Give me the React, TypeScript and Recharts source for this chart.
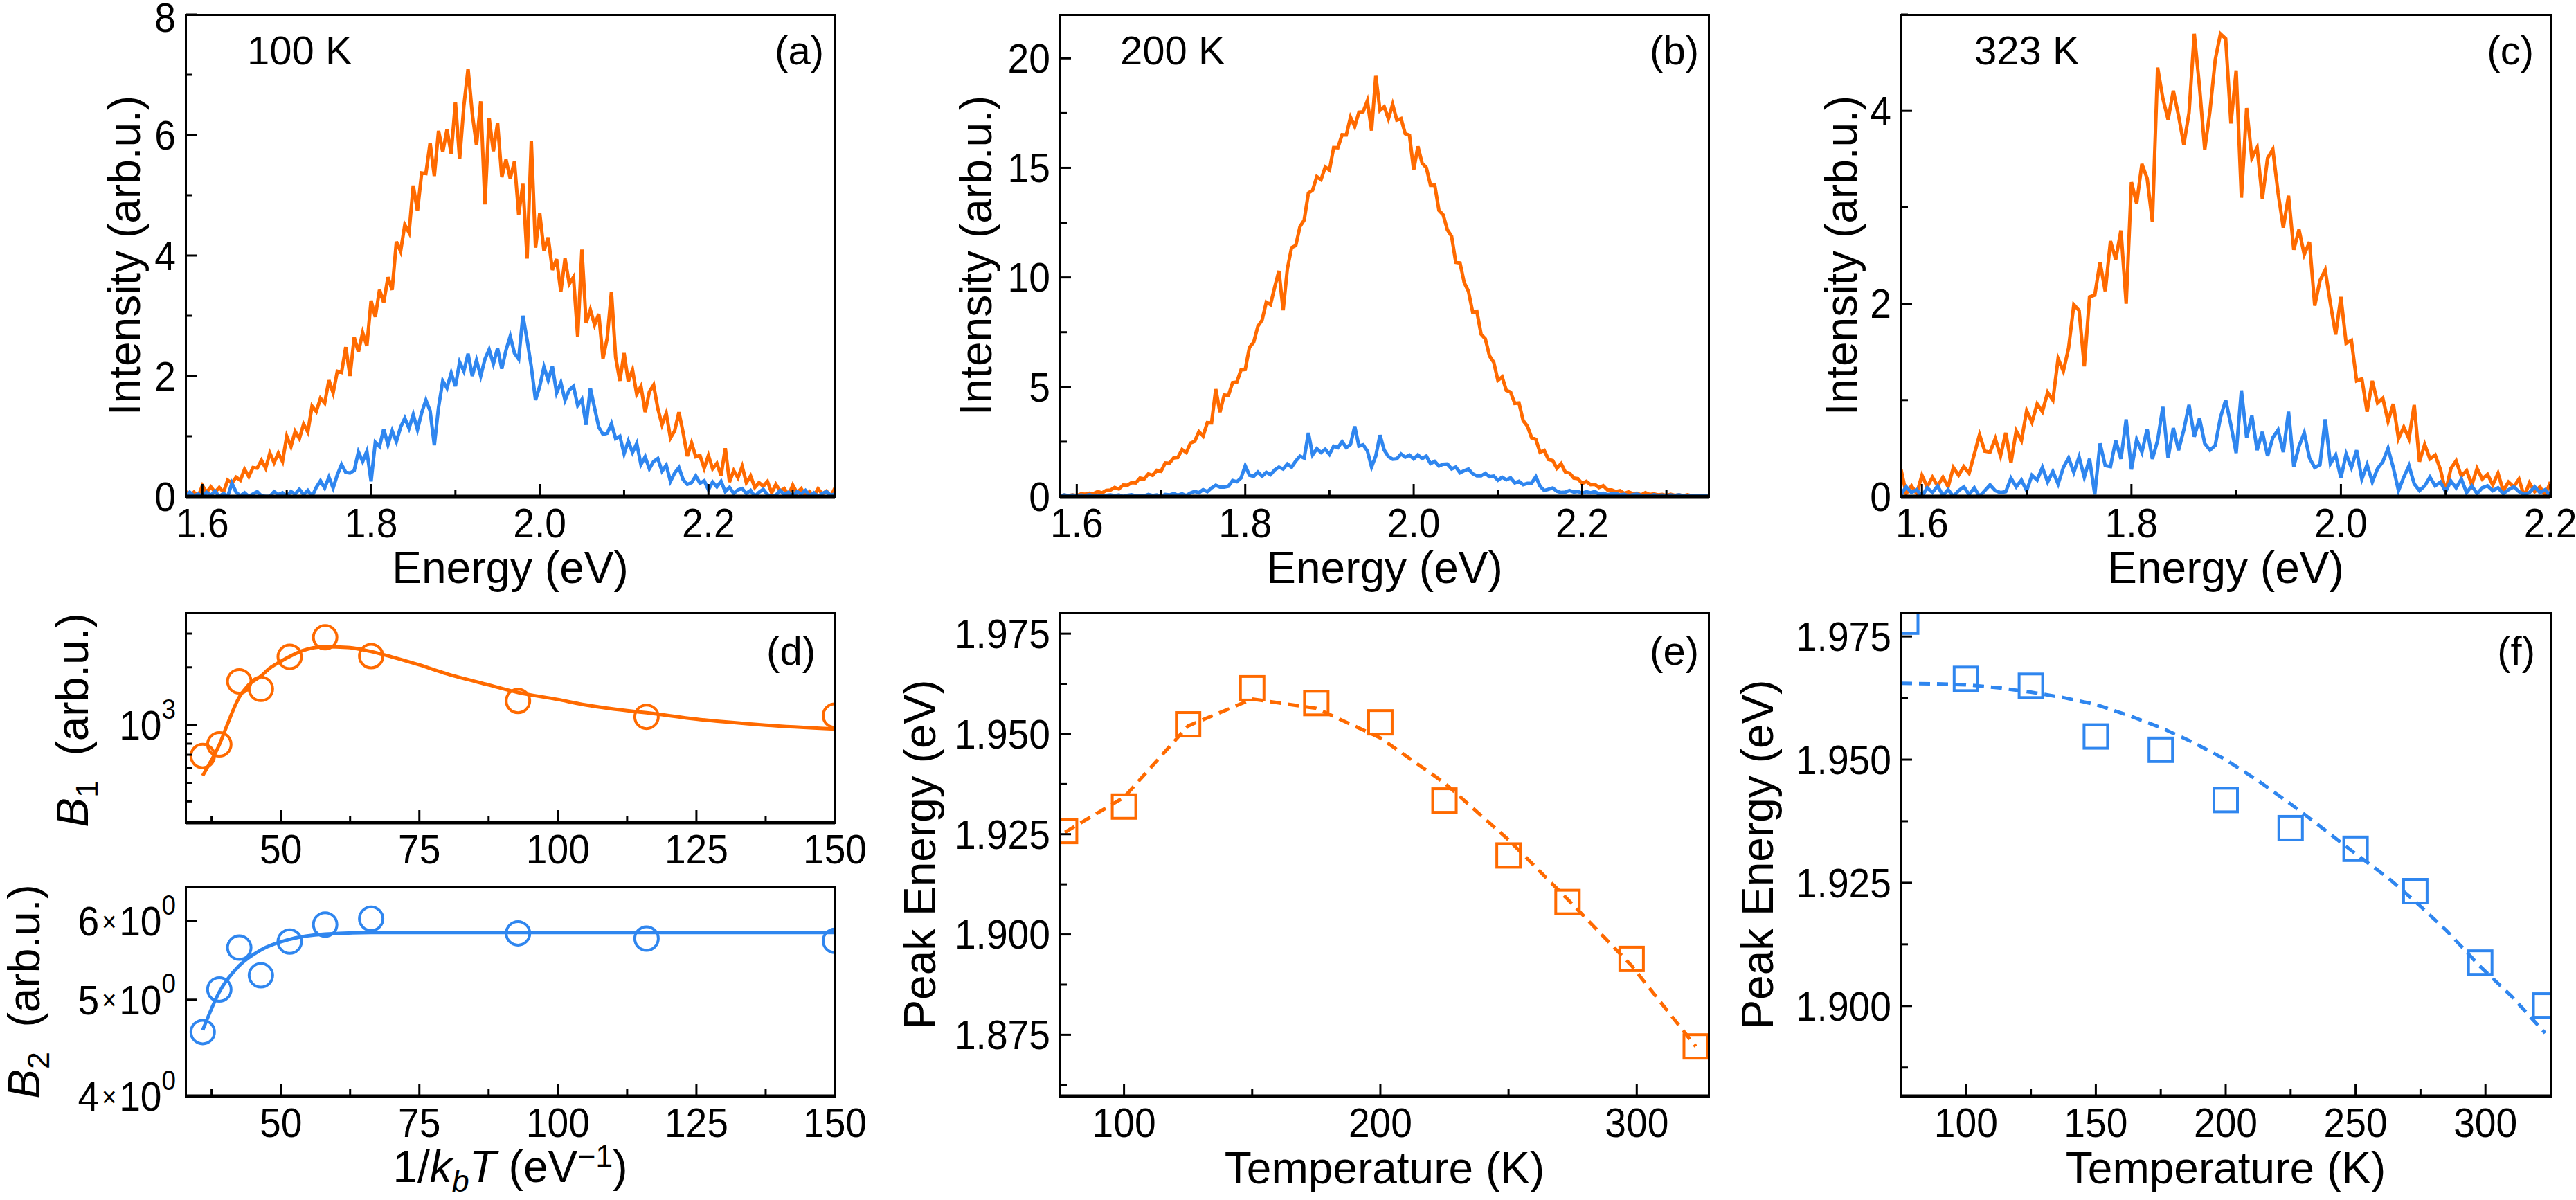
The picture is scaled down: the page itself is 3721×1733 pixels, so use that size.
import React from "react";
import { LineChart, Line, ComposedChart, Scatter, XAxis, YAxis } from "recharts";

const FONT = "'Liberation Sans', Arial, Helvetica, sans-serif";
const ORANGE = "#ff6a00";
const BLUE = "#2f86ef";
const INK = "#000";

// PL spectra, intensity every 5 meV starting at 1.580 eV
const E_START = 1.58;
const E_STEP = 0.005;

const orange100K = [
  0.09, 0.0, 0.07, 0.0, 0.18, 0.07, 0.16, 0.07, 0.15, 0.07,
  0.27, 0.22, 0.32, 0.27, 0.45, 0.33, 0.48, 0.47, 0.6, 0.47,
  0.72, 0.56, 0.72, 0.58, 1.0, 0.83, 1.08, 0.96, 1.2, 1.07,
  1.5, 1.41, 1.63, 1.55, 1.93, 1.72, 2.08, 2.06, 2.48, 2.0,
  2.64, 2.4, 2.72, 2.5, 3.25, 2.98, 3.43, 3.22, 3.64, 3.43,
  4.23, 4.07, 4.51, 4.38, 5.16, 4.74, 5.37, 5.36, 5.87, 5.32,
  6.07, 5.72, 6.09, 5.69, 6.55, 5.6, 6.48, 7.1, 6.35, 5.83,
  6.56, 4.85, 6.28, 5.73, 6.2, 5.3, 5.59, 5.28, 5.56, 4.68,
  5.19, 3.95, 5.9, 4.13, 4.7, 4.08, 4.3, 3.76, 3.94, 3.4,
  3.95, 3.53, 3.64, 2.65, 4.1, 2.88, 3.1, 2.85, 3.03, 2.29,
  2.63, 3.4, 2.31, 1.92, 2.38, 1.91, 2.1, 1.7, 1.83, 1.4,
  1.74, 1.85, 1.46, 1.19, 1.38, 0.97, 1.09, 1.4, 1.06, 0.67,
  0.89, 0.66, 0.68, 0.47, 0.68, 0.46, 0.55, 0.35, 0.8, 0.24,
  0.43, 0.31, 0.5, 0.23, 0.34, 0.15, 0.23, 0.17, 0.25, 0.06,
  0.2, 0.09, 0.13, 0.02, 0.19, 0.06, 0.13, 0.02, 0.08, 0.0,
  0.13, 0.04, 0.09, 0.0, 0.14,
];
const blue100K = [
  0, 0.07, 0.01, 0.04, 0, 0.07, 0.02, 0.09, 0, 0.05,
  0, 0.22, 0.07, 0.01, 0.06, 0, 0.04, 0.08, 0.01, 0,
  0, 0.08, 0.03, 0.06, 0, 0.08, 0.04, 0.12, 0.03, 0.1,
  0, 0.15, 0.26, 0.14, 0.32, 0.14, 0.36, 0.53, 0.4, 0.39,
  0.43, 0.74, 0.58, 0.75, 0.25, 0.9, 0.83, 1.12, 0.86, 1.09,
  0.91, 1.15, 1.3, 1.13, 1.36, 1.11, 1.39, 1.6, 1.42, 0.85,
  1.48, 1.92, 1.8, 2.05, 1.83, 2.23, 2.08, 2.37, 2.0, 2.26,
  2.0, 2.28, 2.44, 2.2, 2.46, 2.12, 2.43, 2.66, 2.38, 2.28,
  3.0, 2.6, 2.15, 1.6, 1.83, 2.15, 1.93, 2.16, 1.72, 1.89,
  1.6, 1.77, 1.83, 1.51, 1.61, 1.19, 1.8, 1.47, 1.15, 1.03,
  1.05, 1.21, 0.96, 1.0, 0.71, 0.92, 0.73, 0.88, 0.53, 0.66,
  0.46, 0.58, 0.63, 0.42, 0.52, 0.25, 0.39, 0.48, 0.28, 0.2,
  0.23, 0.34, 0.22, 0.26, 0.11, 0.24, 0.16, 0.25, 0.08, 0.15,
  0.05, 0.11, 0.13, 0.05, 0.1, 0, 0.07, 0.12, 0.03, 0,
  0.02, 0.1, 0.03, 0.07, 0, 0.08, 0.04, 0.1, 0.01, 0.06,
  0, 0.05, 0.08, 0.02, 0.04,
];
const orange200K = [
  0.02, 0.06, 0.03, 0.07, 0.04, 0.12, 0.1, 0.15, 0.13, 0.22,
  0.16, 0.28, 0.29, 0.41, 0.34, 0.52, 0.51, 0.63, 0.62, 0.84,
  0.8, 1.03, 0.96, 1.19, 1.15, 1.53, 1.52, 1.76, 1.78, 2.14,
  2.0, 2.44, 2.52, 2.96, 2.76, 3.37, 3.36, 4.9, 3.85, 4.63,
  4.61, 5.2, 5.22, 5.78, 5.8, 6.81, 7.04, 7.77, 8.05, 8.87,
  8.76, 9.56, 10.3, 8.5, 10.39, 11.36, 11.46, 12.32, 12.62, 13.85,
  13.98, 14.6, 14.46, 15.04, 14.9, 15.93, 15.92, 16.51, 16.5, 17.31,
  16.89, 17.54, 17.56, 18.06, 16.7, 19.2, 17.62, 17.79, 17.24, 17.9,
  17.18, 17.25, 16.56, 16.49, 14.9, 15.98, 15.22, 15.01, 14.2, 14.21,
  13.06, 12.86, 12.17, 11.88, 10.69, 10.66, 9.76, 9.37, 8.42, 8.45,
  7.41, 7.2, 6.42, 6.13, 5.3, 5.46, 4.84, 4.77, 4.25, 4.27,
  3.46, 3.21, 2.68, 2.61, 2.02, 2.1, 1.69, 1.64, 1.29, 1.5,
  1.12, 1.07, 0.84, 0.81, 0.59, 0.69, 0.54, 0.55, 0.41, 0.49,
  0.3, 0.3, 0.22, 0.26, 0.14, 0.21, 0.13, 0.15, 0.07, 0.17,
  0.09, 0.12, 0.07, 0.09, 0.04, 0.1, 0.05, 0.07, 0.03, 0.08,
  0.03, 0.05, 0.02, 0.04, 0.03,
];
const blue200K = [
  0.02, 0.07, 0.03, 0.06, 0.0, 0.06, 0.04, 0.08, 0.02, 0.05,
  0.01, 0.05, 0.07, 0.03, 0.07, 0.0, 0.05, 0.08, 0.03, 0.02,
  0.03, 0.09, 0.04, 0.07, 0.0, 0.09, 0.07, 0.13, 0.06, 0.12,
  0.04, 0.16, 0.23, 0.17, 0.31, 0.22, 0.39, 0.51, 0.43, 0.43,
  0.47, 0.73, 0.67, 0.84, 1.4, 0.97, 0.92, 1.11, 0.92, 1.1,
  0.99, 1.21, 1.34, 1.25, 1.48, 1.34, 1.62, 1.84, 1.75, 2.9,
  1.9, 2.18, 2.01, 2.16, 1.92, 2.3, 2.23, 2.5, 2.23, 2.38,
  3.2, 2.3, 2.36, 2.08, 1.35, 1.85, 2.8, 2.12, 1.82, 1.7,
  1.72, 1.94, 1.79, 1.89, 1.71, 1.9, 1.73, 1.84, 1.5, 1.6,
  1.39, 1.47, 1.48, 1.26, 1.34, 1.08, 1.18, 1.25, 1.04, 0.94,
  0.94, 1.06, 0.9, 0.93, 0.74, 0.88, 0.76, 0.85, 0.62, 0.69,
  0.54, 0.6, 0.61, 0.9, 0.47, 0.27, 0.33, 0.39, 0.24, 0.18,
  0.2, 0.27, 0.2, 0.23, 0.15, 0.22, 0.17, 0.22, 0.11, 0.15,
  0.08, 0.12, 0.14, 0.07, 0.1, 0.03, 0.08, 0.11, 0.05, 0.02,
  0.03, 0.08, 0.04, 0.06, 0.01, 0.07, 0.04, 0.08, 0.02, 0.05,
  0.01, 0.05, 0.03, 0.04, 0.0,
];
const orange323K = [
  0.28, 0.03, 0.11, 0.03, 0.22, 0.1, 0.2, 0.11, 0.2, 0.1,
  0.3, 0.22, 0.31, 0.24, 0.44, 0.64, 0.47, 0.46, 0.6, 0.42,
  0.66, 0.35, 0.68, 0.58, 0.89, 0.77, 0.96, 0.88, 1.08, 1.0,
  1.43, 1.3, 1.54, 1.99, 1.93, 1.35, 2.07, 2.09, 2.43, 2.13,
  2.65, 2.46, 2.76, 2.0, 3.26, 3.04, 3.45, 3.3, 2.85, 4.45,
  4.13, 3.91, 4.21, 3.95, 3.65, 3.98, 4.8, 4.25, 3.6, 4.0,
  4.53, 4.8, 4.75, 3.87, 4.42, 3.1, 4.03, 3.51, 3.62, 3.09,
  3.51, 3.6, 3.15, 2.79, 3.12, 2.56, 2.77, 2.51, 2.64, 1.98,
  2.24, 2.35, 2.0, 1.68, 2.07, 1.59, 1.62, 1.2, 1.22, 0.88,
  1.2, 0.97, 1.02, 0.78, 0.96, 0.6, 0.72, 0.6, 0.95, 0.36,
  0.54, 0.39, 0.43, 0.28, 0.05, 0.29, 0.37, 0.21, 0.27, 0.12,
  0.29, 0.18, 0.23, 0.12, 0.24, 0.06, 0.15, 0.1, 0.18, 0.0,
  0.14, 0.05, 0.1, 0.01, 0.15,
];
const blue323K = [
  0.02, 0.1, 0.04, 0.07, 0.0, 0.09, 0.04, 0.11, 0.01, 0.07,
  0.0, 0.06, 0.1, 0.02, 0.09, 0.0, 0.06, 0.12, 0.06, 0.04,
  0.05, 0.19, 0.1, 0.17, 0.06, 0.22, 0.17, 0.3, 0.15, 0.26,
  0.13, 0.3, 0.4, 0.25, 0.41, 0.2, 0.39, 0.02, 0.55, 0.32,
  0.31, 0.58, 0.39, 0.8, 0.28, 0.59, 0.46, 0.7, 0.39, 0.58,
  0.93, 0.4, 0.71, 0.48, 0.69, 0.95, 0.62, 0.81, 0.55, 0.48,
  0.53, 0.82, 1.0, 0.74, 0.45, 1.1, 0.61, 0.84, 0.48, 0.67,
  0.42, 0.61, 0.69, 0.46, 0.88, 0.31, 0.52, 0.66, 0.4, 0.3,
  0.33, 0.8, 0.34, 0.43, 0.19, 0.44, 0.3, 0.48, 0.18, 0.33,
  0.15, 0.29, 0.36, 0.5, 0.3, 0.06, 0.2, 0.32, 0.13, 0.06,
  0.11, 0.2, 0.11, 0.15, 0.05, 0.16, 0.09, 0.18, 0.04, 0.11,
  0.03, 0.09, 0.11, 0.06, 0.09, 0.03, 0.07, 0.1, 0.05, 0.02,
  0.04, 0.1, 0.04, 0.07, 0.01,
];

// (d) amplitudes vs 1/kT
const invKT = [35.9, 38.9, 42.5, 46.4, 51.6, 58.0, 66.3, 92.8, 116.0, 150.0];
const b1Measured = [690, 793, 1690, 1545, 2270, 2870, 2290, 1337, 1105, 1120];
const b2Measured = [4.64, 5.12, 5.64, 5.29, 5.72, 5.95, 6.03, 5.83, 5.76, 5.73];
const b1FitX = [35.9, 37, 38.9, 40, 42.5, 44, 46.4, 48, 50, 51.6, 54, 58, 62, 66.3, 70, 75, 80, 87.5, 92.8, 100, 104.4, 112.5, 116, 125, 137.5, 150];
const b1FitY = [545, 620, 790, 950, 1400, 1600, 1800, 1980, 2150, 2280, 2450, 2560, 2540, 2420, 2270, 2060, 1850, 1620, 1480, 1360, 1283, 1190, 1160, 1075, 1000, 955];
const b2FitX = [35.9, 38.9, 42.5, 46.4, 51.6, 58, 66.3, 80, 100, 125, 150];
const b2FitY = [4.66, 5.09, 5.41, 5.61, 5.75, 5.82, 5.84, 5.84, 5.84, 5.84, 5.84];

// (e), (f) peak energy vs temperature
const temps = [77, 100, 125, 150, 175, 200, 225, 250, 273, 298, 323];
const peakOrange = [1.9258, 1.9319, 1.9524, 1.9614, 1.9577, 1.9529, 1.9334, 1.9197, 1.9081, 1.8939, 1.8721];
const fitOrange = [1.9255, 1.9342, 1.952, 1.9587, 1.9564, 1.949, 1.9378, 1.9236, 1.9088, 1.8922, 1.8721];
const peakBlue = [1.978, 1.9664, 1.965, 1.9547, 1.952, 1.9418, 1.9361, 1.9319, 1.9233, 1.9088, 1.9001];
const fitBlueT = [75, 87.5, 100, 112.5, 125, 137.5, 150, 162.5, 175, 187.5, 200, 212.5, 225, 237.5, 250, 262.5, 273, 285, 298, 310, 323];
const fitBlue = [1.9655, 1.9654, 1.9652, 1.9646, 1.9637, 1.9626, 1.9612, 1.959, 1.9565, 1.9535, 1.95, 1.9457, 1.941, 1.936, 1.9309, 1.926, 1.9212, 1.9153, 1.908, 1.902, 1.8945];

// ticks
const eTicks = [1.6, 1.7, 1.8, 1.9, 2.0, 2.1, 2.2, 2.3];
const eTicksC = [1.6, 1.7, 1.8, 1.9, 2.0, 2.1, 2.2];
const yTicksA = [0, 1, 2, 3, 4, 5, 6, 7, 8];
const yTicksB = [0, 2.5, 5, 7.5, 10, 12.5, 15, 17.5, 20];
const yTicksC = [0, 1, 2, 3, 4, 5];
const kTicks = [37.5, 50, 62.5, 75, 87.5, 100, 112.5, 125, 137.5, 150];
const b1Ticks = [400, 500, 600, 700, 800, 900, 1000, 2000, 3000];
const b2Ticks = [4, 5, 6];
const tTicksE = [100, 150, 200, 250, 300];
const tTicksF = [100, 125, 150, 175, 200, 225, 250, 275, 300];
const peTicksE = [1.8625, 1.875, 1.8875, 1.9, 1.9125, 1.925, 1.9375, 1.95, 1.9625, 1.975];
const peTicksF = [1.8875, 1.9, 1.9125, 1.925, 1.9375, 1.95, 1.9625, 1.975];

const spectrum = (o: number[], b: number[]) =>
  o.map((v, i) => ({ e: +(E_START + i * E_STEP).toFixed(3), orange: v, blue: b[i] }));
const pairs = (xs: number[], ys: number[]) => xs.map((x, i) => ({ x, y: ys[i] }));

// layout (page pixels)
const PL = 260, PR = 90, PT = 40, PB = 90;
const TICK_FS = 60;
const TICK_SX = 0.92;
const COLS = [{ l: 268, w: 938 }, { l: 1531, w: 937 }, { l: 2746, w: 938 }];
const TOP_T = 21, TOP_H = 696;
const BOT_T = 885, BOT_H = 698;

const yTick = (axisX: number, isMajor: (v: number) => boolean, label: (v: number) => React.ReactNode) =>
  (props: any) => {
    const { y, payload } = props;
    const v = payload.value;
    const major = isMajor(v);
    return (
      <g>
        <line x1={axisX} x2={axisX + (major ? 16 : 10)} y1={y} y2={y} stroke={INK} strokeWidth={3} />
        {major && (
          <text transform={`translate(${axisX - 14},${Math.max(y, 44)}) scale(${TICK_SX},1)`} x={0} y={0} textAnchor="end"
            dominantBaseline="central" fontSize={TICK_FS} fontFamily={FONT} fill={INK}>
            {label(v)}
          </text>
        )}
      </g>
    );
  };

const xTick = (axisY: number, isMajor: (v: number) => boolean, label: (v: number) => React.ReactNode) =>
  (props: any) => {
    const { x, payload } = props;
    const v = payload.value;
    const major = isMajor(v);
    return (
      <g>
        <line x1={x} x2={x} y1={axisY} y2={axisY - (major ? 18 : 10)} stroke={INK} strokeWidth={3} />
        {major && (
          <text transform={`translate(${x},${axisY + 38}) scale(${TICK_SX},1)`} x={0} y={0} textAnchor="middle"
            dominantBaseline="central" fontSize={TICK_FS} fontFamily={FONT} fill={INK}>
            {label(v)}
          </text>
        )}
      </g>
    );
  };

const circle = (color: string) => (p: any) => (
  <circle cx={p.cx} cy={p.cy} r={17} fill="none" stroke={color} strokeWidth={4} />
);
const square = (color: string) => (p: any) => (
  <rect x={p.cx - 17} y={p.cy - 17} width={34} height={34} fill="none" stroke={color} strokeWidth={4} />
);

function Frame({ l, t, w, h }: { l: number; t: number; w: number; h: number }) {
  return (
    <div style={{ position: "absolute", left: l - 1.5, top: t - 1.5, width: w + 3, height: h + 3, border: `3px solid ${INK}`, boxSizing: "border-box" }} />
  );
}

function Label({ x, y, anchor = "start", rotate = false, size = 58, children }: any) {
  const tx = anchor === "start" ? "0" : anchor === "end" ? "-100%" : "-50%";
  return (
    <div style={{
      position: "absolute", left: x, top: y, whiteSpace: "nowrap", lineHeight: 1,
      fontFamily: FONT, fontSize: size, color: INK,
      transform: rotate ? "translate(-50%, -50%) rotate(-90deg)" : `translate(${tx}, -50%)`,
    }}>{children}</div>
  );
}

function SpectrumPanel({ col, data, xMax, xTicks, yMax, yTicks, yMajor }: any) {
  const { l, w } = col;
  return (
    <div style={{ position: "absolute", left: l - PL, top: TOP_T - PT }}>
      <LineChart width={w + PL + PR} height={TOP_H + PT + PB} data={data} margin={{ top: PT, right: PR, bottom: 0, left: 0 }}>
        <XAxis type="number" dataKey="e" domain={[1.58, xMax]} allowDataOverflow ticks={xTicks} interval={0} height={PB}
          tickLine={false} axisLine={{ stroke: INK, strokeWidth: 5 }}
          tick={xTick(PT + TOP_H, (v) => Math.round(v * 10) % 2 === 0, (v) => v.toFixed(1))} />
        <YAxis type="number" domain={[0, yMax]} allowDataOverflow ticks={yTicks} interval={0} width={PL}
          tickLine={false} axisLine={false} tick={yTick(PL, yMajor, (v) => String(v))} />
        <Line type="linear" dataKey="orange" stroke={ORANGE} strokeWidth={5} dot={false} isAnimationActive={false} />
        <Line type="linear" dataKey="blue" stroke={BLUE} strokeWidth={5} dot={false} isAnimationActive={false} />
      </LineChart>
    </div>
  );
}

function AmpPanel({ t, h, points, fit, color, yDomain, yTicks, yMajor, yLabel }: any) {
  const { l, w } = COLS[0];
  return (
    <div style={{ position: "absolute", left: l - PL, top: t - PT }}>
      <ComposedChart width={w + PL + PR} height={h + PT + PB} margin={{ top: PT, right: PR, bottom: 0, left: 0 }}>
        <XAxis type="number" dataKey="x" domain={[32.8, 150]} allowDataOverflow ticks={kTicks} interval={0} height={PB}
          tickLine={false} axisLine={{ stroke: INK, strokeWidth: 5 }}
          tick={xTick(PT + h, (v) => v % 25 === 0, (v) => String(v))} />
        <YAxis type="number" dataKey="y" scale="log" domain={yDomain} allowDataOverflow ticks={yTicks} interval={0} width={PL}
          tickLine={false} axisLine={false} tick={yTick(PL, yMajor, yLabel)} />
        <Line data={fit} type="monotone" dataKey="y" stroke={color} strokeWidth={5} dot={false} isAnimationActive={false} />
        <Scatter data={points} dataKey="y" shape={circle(color)} isAnimationActive={false} />
      </ComposedChart>
    </div>
  );
}

function PeakPanel({ col, xMax, xTicks, xMajor, yDomain, yTicks, points, fit, color }: any) {
  const { l, w } = col;
  return (
    <div style={{ position: "absolute", left: l - PL, top: BOT_T - PT }}>
      <ComposedChart width={w + PL + PR} height={BOT_H + PT + PB} margin={{ top: PT, right: PR, bottom: 0, left: 0 }}>
        <XAxis type="number" dataKey="x" domain={[75, xMax]} allowDataOverflow ticks={xTicks} interval={0} height={PB}
          tickLine={false} axisLine={{ stroke: INK, strokeWidth: 5 }}
          tick={xTick(PT + BOT_H, xMajor, (v) => String(v))} />
        <YAxis type="number" dataKey="y" domain={yDomain} allowDataOverflow ticks={yTicks} interval={0} width={PL}
          tickLine={false} axisLine={false}
          tick={yTick(PL, (v) => Math.abs(v * 40 - Math.round(v * 40)) < 1e-6, (v) => v.toFixed(3))} />
        <Line data={fit} type="linear" dataKey="y" stroke={color} strokeWidth={5} strokeDasharray="16 10" dot={false} isAnimationActive={false} />
        <Scatter data={points} dataKey="y" shape={square(color)} isAnimationActive={false} />
      </ComposedChart>
    </div>
  );
}

const sup = (base: string, exp: string) => (
  <>
    <tspan>{base}</tspan>
    <tspan dy={-24} fontSize={40}>{exp}</tspan>
  </>
);

export default function App() {
  const D_TOP_T = 885, D_TOP_H = 303;
  const D_BOT_T = 1281, D_BOT_H = 302;
  const titleFs = 64;
  return (
    <div style={{ position: "absolute", left: 0, top: 0, width: 3721, height: 1733, overflow: "hidden", background: "#fff" }}>
      <SpectrumPanel col={COLS[0]} data={spectrum(orange100K, blue100K)} xMax={2.35} xTicks={eTicks} yMax={8} yTicks={yTicksA} yMajor={(v: number) => v % 2 === 0} />
      <SpectrumPanel col={COLS[1]} data={spectrum(orange200K, blue200K)} xMax={2.35} xTicks={eTicks} yMax={22} yTicks={yTicksB} yMajor={(v: number) => v % 5 === 0} />
      <SpectrumPanel col={COLS[2]} data={spectrum(orange323K, blue323K)} xMax={2.2} xTicks={eTicksC} yMax={5} yTicks={yTicksC} yMajor={(v: number) => v % 2 === 0} />
      {COLS.map((c, i) => <Frame key={"ft" + i} l={c.l} t={TOP_T} w={c.w} h={TOP_H} />)}

      <AmpPanel t={D_TOP_T} h={D_TOP_H} points={pairs(invKT, b1Measured)} fit={pairs(b1FitX, b1FitY)} color={ORANGE}
        yDomain={[310, 3850]} yTicks={b1Ticks} yMajor={(v: number) => v === 1000} yLabel={() => sup("10", "3")} />
      <AmpPanel t={D_BOT_T} h={D_BOT_H} points={pairs(invKT, b2Measured)} fit={pairs(b2FitX, b2FitY)} color={BLUE}
        yDomain={[4, 6.49]} yTicks={b2Ticks} yMajor={() => true}
        yLabel={(v: number) => (<><tspan>{v}</tspan><tspan fontSize={40} dx={4}>×</tspan><tspan dx={4}>10</tspan><tspan dy={-24} fontSize={40}>0</tspan></>)} />
      <Frame l={COLS[0].l} t={D_TOP_T} w={COLS[0].w} h={D_TOP_H} />
      <Frame l={COLS[0].l} t={D_BOT_T} w={COLS[0].w} h={D_BOT_H} />

      <PeakPanel col={COLS[1]} xMax={328} xTicks={tTicksE} xMajor={(v: number) => v % 100 === 0} yDomain={[1.8597, 1.9802]}
        yTicks={peTicksE} points={pairs(temps, peakOrange)} fit={pairs(temps, fitOrange)} color={ORANGE} />
      <PeakPanel col={COLS[2]} xMax={325} xTicks={tTicksF} xMajor={(v: number) => v % 50 === 0} yDomain={[1.8817, 1.9798]}
        yTicks={peTicksF} points={pairs(temps, peakBlue)} fit={pairs(fitBlueT, fitBlue)} color={BLUE} />
      <Frame l={COLS[1].l} t={BOT_T} w={COLS[1].w} h={BOT_H} />
      <Frame l={COLS[2].l} t={BOT_T} w={COLS[2].w} h={BOT_H} />

      {/* panel annotations */}
      <Label x={357} y={73}>100 K</Label>
      <Label x={1190} y={73} anchor="end">(a)</Label>
      <Label x={1618} y={73}>200 K</Label>
      <Label x={2454} y={73} anchor="end">(b)</Label>
      <Label x={2852} y={73}>323 K</Label>
      <Label x={3660} y={73} anchor="end">(c)</Label>
      <Label x={1178} y={940} anchor="end">(d)</Label>
      <Label x={2454} y={940} anchor="end">(e)</Label>
      <Label x={3662} y={940} anchor="end">(f)</Label>

      {/* axis titles */}
      <Label x={180} y={369} rotate size={titleFs}>Intensity (arb.u.)</Label>
      <Label x={1410} y={369} rotate size={titleFs}>Intensity (arb.u.)</Label>
      <Label x={2660} y={369} rotate size={titleFs}>Intensity (arb.u.)</Label>
      <Label x={737} y={820} anchor="middle" size={titleFs}>Energy (eV)</Label>
      <Label x={2000} y={820} anchor="middle" size={titleFs}>Energy (eV)</Label>
      <Label x={3215} y={820} anchor="middle" size={titleFs}>Energy (eV)</Label>

      <Label x={110} y={1040} rotate size={titleFs}><i>B</i><sub style={{ fontSize: "0.7em" }}>1</sub>&nbsp;&nbsp;(arb.u.)</Label>
      <Label x={40} y={1432} rotate size={titleFs}><i>B</i><sub style={{ fontSize: "0.7em" }}>2</sub>&nbsp;&nbsp;(arb.u.)</Label>
      <Label x={737} y={1687} anchor="middle" size={titleFs}>
        1/<i>k</i><sub style={{ fontSize: "0.7em" }}><i>b</i></sub><i>T</i> (eV<sup style={{ fontSize: "0.7em" }}>−1</sup>)
      </Label>
      <Label x={1329} y={1234} rotate size={titleFs}>Peak Energy (eV)</Label>
      <Label x={2539} y={1234} rotate size={titleFs}>Peak Energy (eV)</Label>
      <Label x={2000} y={1687} anchor="middle" size={titleFs}>Temperature (K)</Label>
      <Label x={3215} y={1687} anchor="middle" size={titleFs}>Temperature (K)</Label>
    </div>
  );
}
